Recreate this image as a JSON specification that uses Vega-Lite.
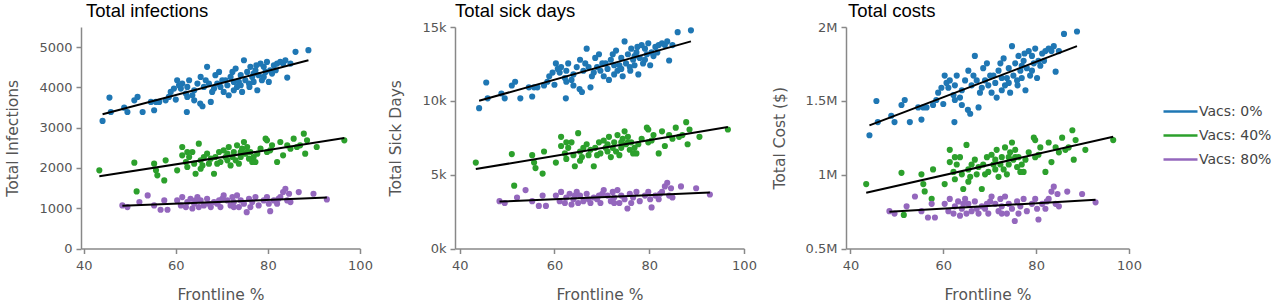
{
"$schema": "https://vega.github.io/schema/vega-lite/v6.json",
"padding": {"left": 5, "top": 1, "right": 2, "bottom": 2},
"data": {"values": [
{"f":44.1,"v":"Vacs: 0%","inf":3167,"sick":9501,"cost":1266800},
{"f":45.6,"v":"Vacs: 0%","inf":3747,"sick":11241,"cost":1498800},
{"f":45.9,"v":"Vacs: 0%","inf":3390,"sick":10170,"cost":1356000},
{"f":48.8,"v":"Vacs: 0%","inf":3498,"sick":10494,"cost":1399200},
{"f":49.5,"v":"Vacs: 0%","inf":3390,"sick":10170,"cost":1356000},
{"f":51.0,"v":"Vacs: 0%","inf":3680,"sick":11040,"cost":1472000},
{"f":51.7,"v":"Vacs: 0%","inf":3764,"sick":11292,"cost":1505600},
{"f":52.8,"v":"Vacs: 0%","inf":3390,"sick":10170,"cost":1356000},
{"f":54.6,"v":"Vacs: 0%","inf":3639,"sick":10917,"cost":1455600},
{"f":55.3,"v":"Vacs: 0%","inf":3432,"sick":10296,"cost":1372800},
{"f":55.7,"v":"Vacs: 0%","inf":3639,"sick":10917,"cost":1455600},
{"f":56.4,"v":"Vacs: 0%","inf":3639,"sick":10917,"cost":1455600},
{"f":57.8,"v":"Vacs: 0%","inf":3680,"sick":11040,"cost":1472000},
{"f":58.5,"v":"Vacs: 0%","inf":3764,"sick":11292,"cost":1505600},
{"f":58.9,"v":"Vacs: 0%","inf":3888,"sick":11664,"cost":1555200},
{"f":59.6,"v":"Vacs: 0%","inf":3971,"sick":11913,"cost":1588400},
{"f":60.0,"v":"Vacs: 0%","inf":3697,"sick":11091,"cost":1478800},
{"f":60.3,"v":"Vacs: 0%","inf":4178,"sick":12534,"cost":1671200},
{"f":61.1,"v":"Vacs: 0%","inf":3971,"sick":11913,"cost":1588400},
{"f":61.4,"v":"Vacs: 0%","inf":4095,"sick":12285,"cost":1638000},
{"f":62.2,"v":"Vacs: 0%","inf":3847,"sick":11541,"cost":1538800},
{"f":62.4,"v":"Vacs: 0%","inf":3390,"sick":10170,"cost":1356000},
{"f":62.5,"v":"Vacs: 0%","inf":4012,"sick":12036,"cost":1604800},
{"f":62.9,"v":"Vacs: 0%","inf":4178,"sick":12534,"cost":1671200},
{"f":63.6,"v":"Vacs: 0%","inf":3805,"sick":11415,"cost":1522000},
{"f":64.0,"v":"Vacs: 0%","inf":3929,"sick":11787,"cost":1571600},
{"f":64.7,"v":"Vacs: 0%","inf":4095,"sick":12285,"cost":1638000},
{"f":65.3,"v":"Vacs: 0%","inf":3598,"sick":10794,"cost":1439200},
{"f":65.4,"v":"Vacs: 0%","inf":4261,"sick":12783,"cost":1704400},
{"f":65.8,"v":"Vacs: 0%","inf":3532,"sick":10596,"cost":1412800},
{"f":66.1,"v":"Vacs: 0%","inf":4012,"sick":12036,"cost":1604800},
{"f":66.8,"v":"Vacs: 0%","inf":4510,"sick":13530,"cost":1804000},
{"f":67.2,"v":"Vacs: 0%","inf":4095,"sick":12285,"cost":1638000},
{"f":67.6,"v":"Vacs: 0%","inf":3639,"sick":10917,"cost":1455600},
{"f":67.9,"v":"Vacs: 0%","inf":3888,"sick":11664,"cost":1555200},
{"f":68.3,"v":"Vacs: 0%","inf":3971,"sick":11913,"cost":1588400},
{"f":68.6,"v":"Vacs: 0%","inf":4303,"sick":12909,"cost":1721200},
{"f":69.4,"v":"Vacs: 0%","inf":4385,"sick":13155,"cost":1754000},
{"f":69.7,"v":"Vacs: 0%","inf":4012,"sick":12036,"cost":1604800},
{"f":70.1,"v":"Vacs: 0%","inf":4178,"sick":12534,"cost":1671200},
{"f":70.4,"v":"Vacs: 0%","inf":3888,"sick":11664,"cost":1555200},
{"f":71.2,"v":"Vacs: 0%","inf":4054,"sick":12162,"cost":1621600},
{"f":71.5,"v":"Vacs: 0%","inf":3805,"sick":11415,"cost":1522000},
{"f":71.9,"v":"Vacs: 0%","inf":4261,"sick":12783,"cost":1704400},
{"f":72.6,"v":"Vacs: 0%","inf":3929,"sick":11787,"cost":1571600},
{"f":72.6,"v":"Vacs: 0%","inf":4137,"sick":12411,"cost":1654800},
{"f":73.0,"v":"Vacs: 0%","inf":4468,"sick":13404,"cost":1787200},
{"f":73.3,"v":"Vacs: 0%","inf":4012,"sick":12036,"cost":1604800},
{"f":74.1,"v":"Vacs: 0%","inf":4303,"sick":12909,"cost":1721200},
{"f":74.4,"v":"Vacs: 0%","inf":3888,"sick":11664,"cost":1555200},
{"f":74.8,"v":"Vacs: 0%","inf":4675,"sick":14025,"cost":1870000},
{"f":75.1,"v":"Vacs: 0%","inf":4178,"sick":12534,"cost":1671200},
{"f":75.5,"v":"Vacs: 0%","inf":4385,"sick":13155,"cost":1754000},
{"f":75.9,"v":"Vacs: 0%","inf":4095,"sick":12285,"cost":1638000},
{"f":76.2,"v":"Vacs: 0%","inf":4510,"sick":13530,"cost":1804000},
{"f":76.6,"v":"Vacs: 0%","inf":4261,"sick":12783,"cost":1704400},
{"f":76.9,"v":"Vacs: 0%","inf":4137,"sick":12411,"cost":1654800},
{"f":77.3,"v":"Vacs: 0%","inf":4427,"sick":13281,"cost":1770800},
{"f":77.7,"v":"Vacs: 0%","inf":3929,"sick":11787,"cost":1571600},
{"f":78.0,"v":"Vacs: 0%","inf":4303,"sick":12909,"cost":1721200},
{"f":78.4,"v":"Vacs: 0%","inf":4592,"sick":13776,"cost":1836800},
{"f":78.7,"v":"Vacs: 0%","inf":4178,"sick":12534,"cost":1671200},
{"f":79.1,"v":"Vacs: 0%","inf":4510,"sick":13530,"cost":1804000},
{"f":79.5,"v":"Vacs: 0%","inf":4385,"sick":13155,"cost":1754000},
{"f":79.8,"v":"Vacs: 0%","inf":4634,"sick":13902,"cost":1853600},
{"f":80.2,"v":"Vacs: 0%","inf":4137,"sick":12411,"cost":1654800},
{"f":80.5,"v":"Vacs: 0%","inf":4427,"sick":13281,"cost":1770800},
{"f":80.9,"v":"Vacs: 0%","inf":4344,"sick":13032,"cost":1737600},
{"f":81.3,"v":"Vacs: 0%","inf":4551,"sick":13653,"cost":1820400},
{"f":82.0,"v":"Vacs: 0%","inf":4592,"sick":13776,"cost":1836800},
{"f":82.7,"v":"Vacs: 0%","inf":4634,"sick":13902,"cost":1853600},
{"f":83.3,"v":"Vacs: 0%","inf":4592,"sick":13776,"cost":1836800},
{"f":83.8,"v":"Vacs: 0%","inf":4675,"sick":14025,"cost":1870000},
{"f":84.2,"v":"Vacs: 0%","inf":4244,"sick":12732,"cost":1697600},
{"f":84.9,"v":"Vacs: 0%","inf":4592,"sick":13776,"cost":1836800},
{"f":86.0,"v":"Vacs: 0%","inf":4883,"sick":14649,"cost":1953200},
{"f":88.8,"v":"Vacs: 0%","inf":4924,"sick":14772,"cost":1969600},
{"f":62.5,"v":"Vacs: 0%","inf":3764,"sick":11292,"cost":1505600},
{"f":66.5,"v":"Vacs: 0%","inf":4178,"sick":12534,"cost":1671200},
{"f":69.0,"v":"Vacs: 0%","inf":4095,"sick":12285,"cost":1638000},
{"f":70.8,"v":"Vacs: 0%","inf":4178,"sick":12534,"cost":1671200},
{"f":72.3,"v":"Vacs: 0%","inf":4385,"sick":13155,"cost":1754000},
{"f":73.7,"v":"Vacs: 0%","inf":4137,"sick":12411,"cost":1654800},
{"f":76.0,"v":"Vacs: 0%","inf":4012,"sick":12036,"cost":1604800},
{"f":77.5,"v":"Vacs: 0%","inf":4551,"sick":13653,"cost":1820400},
{"f":79.1,"v":"Vacs: 0%","inf":4261,"sick":12783,"cost":1704400},
{"f":81.7,"v":"Vacs: 0%","inf":4427,"sick":13281,"cost":1770800},
{"f":64.0,"v":"Vacs: 0%","inf":3680,"sick":11040,"cost":1472000},
{"f":60.7,"v":"Vacs: 0%","inf":4054,"sick":12162,"cost":1621600},
{"f":74.1,"v":"Vacs: 0%","inf":4054,"sick":12162,"cost":1621600},
{"f":76.9,"v":"Vacs: 0%","inf":4344,"sick":13032,"cost":1737600},
{"f":43.4,"v":"Vacs: 40%","inf":1940,"sick":5820,"cost":936000},
{"f":51.0,"v":"Vacs: 40%","inf":2131,"sick":6393,"cost":1012400},
{"f":51.5,"v":"Vacs: 40%","inf":1418,"sick":4254,"cost":727200},
{"f":55.3,"v":"Vacs: 40%","inf":2106,"sick":6318,"cost":1002400},
{"f":55.7,"v":"Vacs: 40%","inf":1940,"sick":5820,"cost":936000},
{"f":56.0,"v":"Vacs: 40%","inf":1816,"sick":5448,"cost":886400},
{"f":57.5,"v":"Vacs: 40%","inf":1691,"sick":5073,"cost":836400},
{"f":57.8,"v":"Vacs: 40%","inf":2189,"sick":6567,"cost":1035600},
{"f":60.3,"v":"Vacs: 40%","inf":1940,"sick":5820,"cost":936000},
{"f":61.4,"v":"Vacs: 40%","inf":2520,"sick":7560,"cost":1168000},
{"f":61.4,"v":"Vacs: 40%","inf":2313,"sick":6939,"cost":1085200},
{"f":62.2,"v":"Vacs: 40%","inf":2147,"sick":6441,"cost":1018800},
{"f":62.5,"v":"Vacs: 40%","inf":2023,"sick":6069,"cost":969200},
{"f":62.9,"v":"Vacs: 40%","inf":2272,"sick":6816,"cost":1068800},
{"f":63.6,"v":"Vacs: 40%","inf":2396,"sick":7188,"cost":1118400},
{"f":64.0,"v":"Vacs: 40%","inf":2106,"sick":6318,"cost":1002400},
{"f":64.3,"v":"Vacs: 40%","inf":1857,"sick":5571,"cost":902800},
{"f":65.0,"v":"Vacs: 40%","inf":2603,"sick":7809,"cost":1201200},
{"f":65.4,"v":"Vacs: 40%","inf":2189,"sick":6567,"cost":1035600},
{"f":65.8,"v":"Vacs: 40%","inf":2064,"sick":6192,"cost":985600},
{"f":66.1,"v":"Vacs: 40%","inf":2272,"sick":6816,"cost":1068800},
{"f":66.8,"v":"Vacs: 40%","inf":2354,"sick":7062,"cost":1101600},
{"f":67.2,"v":"Vacs: 40%","inf":2106,"sick":6318,"cost":1002400},
{"f":67.6,"v":"Vacs: 40%","inf":2230,"sick":6690,"cost":1052000},
{"f":68.3,"v":"Vacs: 40%","inf":1857,"sick":5571,"cost":902800},
{"f":68.6,"v":"Vacs: 40%","inf":2272,"sick":6816,"cost":1068800},
{"f":69.4,"v":"Vacs: 40%","inf":2396,"sick":7188,"cost":1118400},
{"f":69.7,"v":"Vacs: 40%","inf":2147,"sick":6441,"cost":1018800},
{"f":70.4,"v":"Vacs: 40%","inf":2437,"sick":7311,"cost":1134800},
{"f":70.8,"v":"Vacs: 40%","inf":2272,"sick":6816,"cost":1068800},
{"f":71.2,"v":"Vacs: 40%","inf":2189,"sick":6567,"cost":1035600},
{"f":71.5,"v":"Vacs: 40%","inf":2520,"sick":7560,"cost":1168000},
{"f":71.9,"v":"Vacs: 40%","inf":2064,"sick":6192,"cost":985600},
{"f":72.6,"v":"Vacs: 40%","inf":2396,"sick":7188,"cost":1118400},
{"f":73.0,"v":"Vacs: 40%","inf":2189,"sick":6567,"cost":1035600},
{"f":73.3,"v":"Vacs: 40%","inf":2561,"sick":7683,"cost":1184400},
{"f":73.7,"v":"Vacs: 40%","inf":2106,"sick":6318,"cost":1002400},
{"f":74.1,"v":"Vacs: 40%","inf":2272,"sick":6816,"cost":1068800},
{"f":74.4,"v":"Vacs: 40%","inf":2478,"sick":7434,"cost":1151200},
{"f":74.8,"v":"Vacs: 40%","inf":2644,"sick":7932,"cost":1217600},
{"f":75.1,"v":"Vacs: 40%","inf":2354,"sick":7062,"cost":1101600},
{"f":75.5,"v":"Vacs: 40%","inf":2520,"sick":7560,"cost":1168000},
{"f":75.9,"v":"Vacs: 40%","inf":2230,"sick":6690,"cost":1052000},
{"f":76.2,"v":"Vacs: 40%","inf":2396,"sick":7188,"cost":1118400},
{"f":76.9,"v":"Vacs: 40%","inf":2272,"sick":6816,"cost":1068800},
{"f":77.3,"v":"Vacs: 40%","inf":2147,"sick":6441,"cost":1018800},
{"f":77.7,"v":"Vacs: 40%","inf":2354,"sick":7062,"cost":1101600},
{"f":78.4,"v":"Vacs: 40%","inf":2478,"sick":7434,"cost":1151200},
{"f":79.5,"v":"Vacs: 40%","inf":2727,"sick":8181,"cost":1250800},
{"f":79.8,"v":"Vacs: 40%","inf":2686,"sick":8058,"cost":1234400},
{"f":80.5,"v":"Vacs: 40%","inf":2437,"sick":7311,"cost":1134800},
{"f":80.9,"v":"Vacs: 40%","inf":2561,"sick":7683,"cost":1184400},
{"f":82.0,"v":"Vacs: 40%","inf":2147,"sick":6441,"cost":1018800},
{"f":82.7,"v":"Vacs: 40%","inf":2644,"sick":7932,"cost":1217600},
{"f":83.3,"v":"Vacs: 40%","inf":2313,"sick":6939,"cost":1085200},
{"f":84.2,"v":"Vacs: 40%","inf":2561,"sick":7683,"cost":1184400},
{"f":85.6,"v":"Vacs: 40%","inf":2727,"sick":8181,"cost":1250800},
{"f":86.3,"v":"Vacs: 40%","inf":2520,"sick":7560,"cost":1168000},
{"f":87.0,"v":"Vacs: 40%","inf":2561,"sick":7683,"cost":1184400},
{"f":87.8,"v":"Vacs: 40%","inf":2852,"sick":8556,"cost":1300800},
{"f":88.1,"v":"Vacs: 40%","inf":2354,"sick":7062,"cost":1101600},
{"f":88.5,"v":"Vacs: 40%","inf":2686,"sick":8058,"cost":1234400},
{"f":90.6,"v":"Vacs: 40%","inf":2520,"sick":7560,"cost":1168000},
{"f":96.6,"v":"Vacs: 40%","inf":2686,"sick":8058,"cost":1234400},
{"f":62.5,"v":"Vacs: 40%","inf":2396,"sick":7188,"cost":1118400},
{"f":69.0,"v":"Vacs: 40%","inf":2106,"sick":6318,"cost":1002400},
{"f":72.3,"v":"Vacs: 40%","inf":2272,"sick":6816,"cost":1068800},
{"f":74.1,"v":"Vacs: 40%","inf":2396,"sick":7188,"cost":1118400},
{"f":75.5,"v":"Vacs: 40%","inf":2396,"sick":7188,"cost":1118400},
{"f":76.6,"v":"Vacs: 40%","inf":2147,"sick":6441,"cost":1018800},
{"f":65.4,"v":"Vacs: 40%","inf":1981,"sick":5943,"cost":952400},
{"f":71.2,"v":"Vacs: 40%","inf":2354,"sick":7062,"cost":1101600},
{"f":79.8,"v":"Vacs: 40%","inf":2396,"sick":7188,"cost":1118400},
{"f":84.9,"v":"Vacs: 40%","inf":2478,"sick":7434,"cost":1151200},
{"f":48.4,"v":"Vacs: 80%","inf":1069,"sick":3207,"cost":752600},
{"f":49.5,"v":"Vacs: 80%","inf":1028,"sick":3084,"cost":736200},
{"f":53.9,"v":"Vacs: 80%","inf":1318,"sick":3954,"cost":852200},
{"f":52.1,"v":"Vacs: 80%","inf":1152,"sick":3456,"cost":785800},
{"f":55.3,"v":"Vacs: 80%","inf":1069,"sick":3207,"cost":752600},
{"f":56.7,"v":"Vacs: 80%","inf":962,"sick":2886,"cost":709800},
{"f":57.5,"v":"Vacs: 80%","inf":1194,"sick":3582,"cost":802600},
{"f":58.2,"v":"Vacs: 80%","inf":962,"sick":2886,"cost":709800},
{"f":60.3,"v":"Vacs: 80%","inf":1194,"sick":3582,"cost":802600},
{"f":61.1,"v":"Vacs: 80%","inf":1069,"sick":3207,"cost":752600},
{"f":61.4,"v":"Vacs: 80%","inf":1277,"sick":3831,"cost":835800},
{"f":62.2,"v":"Vacs: 80%","inf":1028,"sick":3084,"cost":736200},
{"f":62.5,"v":"Vacs: 80%","inf":1152,"sick":3456,"cost":785800},
{"f":63.2,"v":"Vacs: 80%","inf":1235,"sick":3705,"cost":819000},
{"f":63.6,"v":"Vacs: 80%","inf":994,"sick":2982,"cost":722600},
{"f":64.0,"v":"Vacs: 80%","inf":1111,"sick":3333,"cost":769400},
{"f":64.7,"v":"Vacs: 80%","inf":1277,"sick":3831,"cost":835800},
{"f":65.0,"v":"Vacs: 80%","inf":1028,"sick":3084,"cost":736200},
{"f":65.4,"v":"Vacs: 80%","inf":1194,"sick":3582,"cost":802600},
{"f":66.1,"v":"Vacs: 80%","inf":1069,"sick":3207,"cost":752600},
{"f":66.8,"v":"Vacs: 80%","inf":1235,"sick":3705,"cost":819000},
{"f":67.6,"v":"Vacs: 80%","inf":1028,"sick":3084,"cost":736200},
{"f":68.3,"v":"Vacs: 80%","inf":1152,"sick":3456,"cost":785800},
{"f":69.0,"v":"Vacs: 80%","inf":1111,"sick":3333,"cost":769400},
{"f":69.7,"v":"Vacs: 80%","inf":1028,"sick":3084,"cost":736200},
{"f":70.1,"v":"Vacs: 80%","inf":1235,"sick":3705,"cost":819000},
{"f":70.4,"v":"Vacs: 80%","inf":1318,"sick":3954,"cost":852200},
{"f":71.2,"v":"Vacs: 80%","inf":1194,"sick":3582,"cost":802600},
{"f":71.9,"v":"Vacs: 80%","inf":1069,"sick":3207,"cost":752600},
{"f":72.3,"v":"Vacs: 80%","inf":1277,"sick":3831,"cost":835800},
{"f":72.6,"v":"Vacs: 80%","inf":1152,"sick":3456,"cost":785800},
{"f":73.3,"v":"Vacs: 80%","inf":1318,"sick":3954,"cost":852200},
{"f":73.7,"v":"Vacs: 80%","inf":1028,"sick":3084,"cost":736200},
{"f":74.1,"v":"Vacs: 80%","inf":1194,"sick":3582,"cost":802600},
{"f":74.8,"v":"Vacs: 80%","inf":1111,"sick":3333,"cost":769400},
{"f":75.4,"v":"Vacs: 80%","inf":903,"sick":2709,"cost":686200},
{"f":75.9,"v":"Vacs: 80%","inf":1235,"sick":3705,"cost":819000},
{"f":76.6,"v":"Vacs: 80%","inf":1152,"sick":3456,"cost":785800},
{"f":77.3,"v":"Vacs: 80%","inf":1277,"sick":3831,"cost":835800},
{"f":78.0,"v":"Vacs: 80%","inf":1069,"sick":3207,"cost":752600},
{"f":79.1,"v":"Vacs: 80%","inf":1194,"sick":3582,"cost":802600},
{"f":79.8,"v":"Vacs: 80%","inf":1277,"sick":3831,"cost":835800},
{"f":80.2,"v":"Vacs: 80%","inf":1111,"sick":3333,"cost":769400},
{"f":80.5,"v":"Vacs: 80%","inf":928,"sick":2784,"cost":696200},
{"f":81.3,"v":"Vacs: 80%","inf":1194,"sick":3582,"cost":802600},
{"f":82.0,"v":"Vacs: 80%","inf":1111,"sick":3333,"cost":769400},
{"f":82.7,"v":"Vacs: 80%","inf":1277,"sick":3831,"cost":835800},
{"f":83.3,"v":"Vacs: 80%","inf":1401,"sick":4203,"cost":885400},
{"f":83.8,"v":"Vacs: 80%","inf":1484,"sick":4452,"cost":918600},
{"f":84.2,"v":"Vacs: 80%","inf":1194,"sick":3582,"cost":802600},
{"f":84.6,"v":"Vacs: 80%","inf":1360,"sick":4080,"cost":869000},
{"f":84.9,"v":"Vacs: 80%","inf":1152,"sick":3456,"cost":785800},
{"f":86.7,"v":"Vacs: 80%","inf":1401,"sick":4203,"cost":885400},
{"f":89.9,"v":"Vacs: 80%","inf":1360,"sick":4080,"cost":869000},
{"f":92.8,"v":"Vacs: 80%","inf":1219,"sick":3657,"cost":812600},
{"f":64.3,"v":"Vacs: 80%","inf":1194,"sick":3582,"cost":802600},
{"f":67.2,"v":"Vacs: 80%","inf":1111,"sick":3333,"cost":769400},
{"f":69.4,"v":"Vacs: 80%","inf":1194,"sick":3582,"cost":802600},
{"f":72.6,"v":"Vacs: 80%","inf":1028,"sick":3084,"cost":736200},
{"f":76.2,"v":"Vacs: 80%","inf":1028,"sick":3084,"cost":736200},
{"f":82.3,"v":"Vacs: 80%","inf":1235,"sick":3705,"cost":819000}
]},
"spacing": 15,
"resolve": {"scale": {"color": "shared"}, "legend": {"color": "shared"}},
"hconcat": [
{
"width": 279, "height": 221.5,
"title": {"text": "Total infections", "dx": 5, "offset": 7},
"layer": [
{"mark": {"type": "circle", "size": 38, "opacity": 1},
 "encoding": {
  "x": {"field": "f", "type": "quantitative", "scale": {"domain": [39.42, 100], "nice": false, "zero": false}, "axis": {"values": [40, 60, 80, 100], "title": "Frontline %"}},
  "y": {"field": "inf", "type": "quantitative", "scale": {"domain": [0, 5500], "nice": false}, "axis": {"values": [0, 1000, 2000, 3000, 4000, 5000], "format": "d", "title": "Total Infections"}},
  "color": {"field": "v", "type": "nominal", "scale": {"domain": ["Vacs: 0%", "Vacs: 40%", "Vacs: 80%"], "range": ["#1f77b4", "#2ca02c", "#9467bd"]}, "legend": {"orient": "none", "legendX": 1091, "legendY": 76, "title": null, "symbolType": "M-2,-0.15H2V0.15H-2Z", "symbolSize": 289, "symbolStrokeWidth": 0, "symbolOpacity": 1, "labelOffset": 10, "rowPadding": 8, "padding": 0, "labelFont": "DejaVu Sans", "labelFontSize": 14, "labelColor": "#444"}}
 }},
{"transform": [{"regression": "inf", "on": "f", "groupby": ["v"]}],
 "mark": {"type": "line", "color": "#000", "strokeWidth": 2},
 "encoding": {"x": {"field": "f", "type": "quantitative"}, "y": {"field": "inf", "type": "quantitative"}, "detail": {"field": "v", "type": "nominal"}}}
]
},
{
"width": 289, "height": 221.5,
"title": {"text": "Total sick days", "dx": 0, "offset": 1},
"layer": [
{"mark": {"type": "circle", "size": 38, "opacity": 1},
 "encoding": {
  "x": {"field": "f", "type": "quantitative", "scale": {"domain": [39.01, 100], "nice": false, "zero": false}, "axis": {"values": [40, 60, 80, 100], "title": "Frontline %"}},
  "y": {"field": "sick", "type": "quantitative", "scale": {"domain": [0, 15000], "nice": false}, "axis": {"values": [0, 5000, 10000, 15000], "format": "~s", "title": "Total Sick Days"}},
  "color": {"field": "v", "type": "nominal"}
 }},
{"transform": [{"regression": "sick", "on": "f", "groupby": ["v"]}],
 "mark": {"type": "line", "color": "#000", "strokeWidth": 2},
 "encoding": {"x": {"field": "f", "type": "quantitative"}, "y": {"field": "sick", "type": "quantitative"}, "detail": {"field": "v", "type": "nominal"}}}
]
},
{
"width": 283, "height": 221.5,
"title": {"text": "Total costs", "dx": 2, "offset": 1},
"layer": [
{"mark": {"type": "circle", "size": 38, "opacity": 1},
 "encoding": {
  "x": {"field": "f", "type": "quantitative", "scale": {"domain": [39.05, 100], "nice": false, "zero": false}, "axis": {"values": [40, 60, 80, 100], "title": "Frontline %"}},
  "y": {"field": "cost", "type": "quantitative", "scale": {"domain": [500000, 2000000], "nice": false, "zero": false}, "axis": {"values": [500000, 1000000, 1500000, 2000000], "labelExpr": "(datum.value / 1000000) + 'M'", "title": "Total Cost ($)"}},
  "color": {"field": "v", "type": "nominal"}
 }},
{"transform": [{"regression": "cost", "on": "f", "groupby": ["v"]}],
 "mark": {"type": "line", "color": "#000", "strokeWidth": 2},
 "encoding": {"x": {"field": "f", "type": "quantitative"}, "y": {"field": "cost", "type": "quantitative"}, "detail": {"field": "v", "type": "nominal"}}}
]
}
],
"config": {
 "view": {"stroke": null},
 "font": "DejaVu Sans",
 "axis": {"grid": false, "domainColor": "#888", "domainWidth": 1.5, "tickColor": "#888", "tickWidth": 1.5, "tickSize": 5, "labelFont": "DejaVu Sans", "labelFontSize": 13, "labelColor": "#555", "labelFlush": false, "labelOverlap": false, "labelBound": false, "titleFont": "DejaVu Sans", "titleFontSize": 15.5, "titleFontWeight": "normal", "titleColor": "#555"},
 "axisX": {"labelPadding": 6, "titlePadding": 15},
 "axisY": {"labelPadding": 4, "titlePadding": 18},
 "title": {"font": "Liberation Sans", "fontSize": 18.5, "fontWeight": "normal", "color": "#000", "anchor": "start", "frame": "group", "baseline": "alphabetic"}
}
}
